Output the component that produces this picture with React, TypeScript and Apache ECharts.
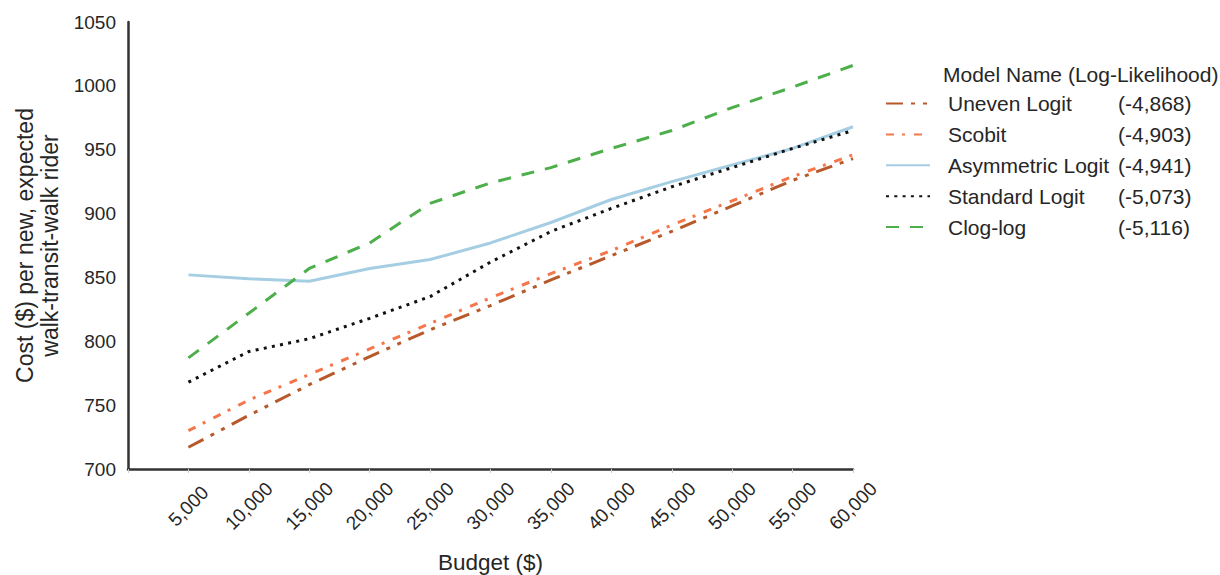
import React, { useEffect, useRef } from "react";
import * as echarts from "echarts";

const budgets = [5000, 10000, 15000, 20000, 25000, 30000, 35000, 40000, 45000, 50000, 55000, 60000];
const unevenLogit = [717, 742, 766, 788, 809, 828, 848, 867, 886, 906, 926, 943];
const scobit = [730, 754, 774, 794, 814, 834, 853, 871, 891, 910, 929, 946];
const asymmetricLogit = [852, 849, 847, 857, 864, 877, 893, 911, 925, 938, 951, 968];
const standardLogit = [768, 792, 802, 818, 835, 862, 886, 904, 921, 936, 951, 965];
const clogLog = [787, 822, 857, 877, 908, 924, 936, 951, 965, 983, 999, 1016];

const seriesNames = ["Uneven Logit", "Scobit", "Asymmetric Logit", "Standard Logit", "Clog-log"];
const logLikelihoods = ["(-4,868)", "(-4,903)", "(-4,941)", "(-5,073)", "(-5,116)"];
const seriesValues = [unevenLogit, scobit, asymmetricLogit, standardLogit, clogLog];
const seriesColors = ["#b8592b", "#f4764a", "#a6cee3", "#111111", "#4daf4a"];
const dashTypes: any[] = [[17, 8, 4, 8, 4, 8], [8, 8, 3, 9], "solid", [3, 5.3], [13, 11]];

const FONT = "'Liberation Sans', Arial, Helvetica, sans-serif";

export default function App() {
  const ref = useRef<HTMLDivElement>(null);
  useEffect(() => {
    if (!ref.current) return;
    const chart = echarts.init(ref.current, undefined, { renderer: "svg" });
    const llMap: Record<string, string> = {};
    seriesNames.forEach((n, i) => (llMap[n] = logLikelihoods[i]));
    chart.setOption({
      animation: false,
      backgroundColor: "#ffffff",
      textStyle: { fontFamily: FONT },
      title: {
        text: "Model Name (Log-Likelihood)",
        left: 938,
        top: 59,
        textStyle: { fontFamily: FONT, fontSize: 21, fontWeight: "normal", color: "#262626" },
      },
      legend: {
        orient: "vertical",
        left: 880,
        top: 88,
        itemWidth: 44,
        itemHeight: 14,
        itemGap: 9.9,
        itemStyle: { opacity: 0 },
        data: seriesNames,
        formatter: (name: string) => `{n|${name}}{v|${llMap[name]}}`,
        textStyle: {
          fontFamily: FONT,
          fontSize: 21,
          color: "#262626",
          rich: {
            n: { fontFamily: FONT, fontSize: 21, color: "#262626", width: 170, padding: [0, 0, 0, 13], lineHeight: 24 },
            v: { fontFamily: FONT, fontSize: 21, color: "#262626", lineHeight: 24 },
          },
        },
      },
      grid: { left: 128, top: 22, right: 367, bottom: 106, containLabel: false, outerBoundsMode: "none" },
      xAxis: {
        type: "value",
        min: 0,
        max: 60000,
        interval: 5000,
        name: "Budget ($)",
        nameLocation: "middle",
        nameGap: 82,
        nameTextStyle: { fontFamily: FONT, fontSize: 22.5, color: "#262626" },
        axisLine: { show: true, onZero: false, lineStyle: { color: "#333333", width: 2.5 } },
        axisTick: { show: true, length: 4, lineStyle: { color: "#cccccc", width: 1 } },
        splitLine: { show: false },
        axisLabel: {
          rotate: 45,
          align: "center",
          verticalAlign: "middle",
          fontFamily: FONT,
          fontSize: 19,
          color: "#262626",
          margin: 37,
          formatter: (v: number) => (v === 0 ? "" : v.toLocaleString("en-US")),
        },
      },
      yAxis: {
        type: "value",
        min: 700,
        max: 1050,
        interval: 50,
        name: "Cost ($) per new, expected\nwalk-transit-walk rider",
        nameLocation: "middle",
        nameGap: 66,
        nameTextStyle: { fontFamily: FONT, fontSize: 23, color: "#262626", lineHeight: 25 },
        axisLine: { show: true, lineStyle: { color: "#333333", width: 2.5 } },
        axisTick: { show: false },
        splitLine: { show: false },
        axisLabel: { fontFamily: FONT, fontSize: 19, color: "#262626", margin: 12, formatter: (v: number) => String(v) },
      },
      series: seriesNames.map((name, i) => ({
        name,
        type: "line",
        symbol: "none",
        showSymbol: false,
        color: seriesColors[i],
        lineStyle: { color: seriesColors[i], width: 3, type: dashTypes[i], cap: "butt" },
        data: budgets.map((b, j) => [b, seriesValues[i][j]]),
      })),
    });
    return () => chart.dispose();
  }, []);
  return <div ref={ref} style={{ width: 1220, height: 575, position: "absolute", left: 0, top: 0 }} />;
}
